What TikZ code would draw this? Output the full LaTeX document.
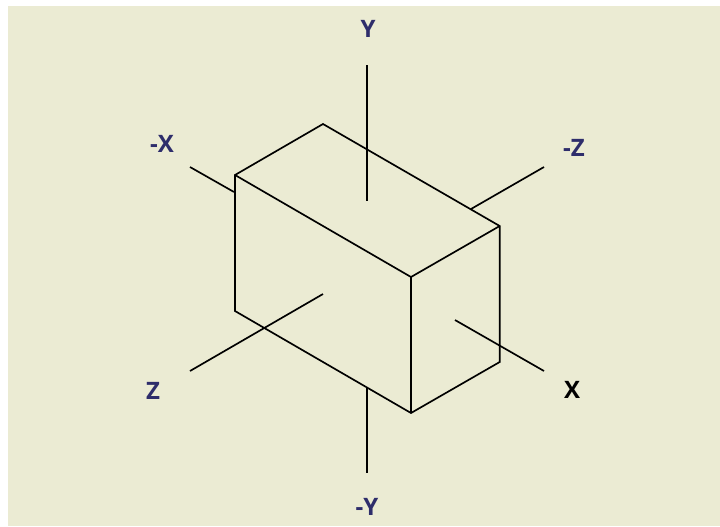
\documentclass[tikz,border=0pt]{standalone}
\usepackage{fontspec}
\setmainfont{Open Sans}
\definecolor{panel}{HTML}{EBEBD3}
\definecolor{navy}{HTML}{2E2D6B}
\tikzset{
  x=0.75pt,y=-0.75pt,
  edge/.style={draw=black,line width=1.25pt,line cap=butt,line join=miter},
  axisv/.style={draw=black,line width=1.9pt},
  lab/.style={font=\bfseries\fontsize{18}{20}\selectfont,text=navy,inner sep=0pt},
}
\begin{document}
\begin{tikzpicture}
\useasboundingbox (0,0) rectangle (720,526);
\fill[white] (0,0) rectangle (720,526);
\fill[panel] (8,6) rectangle (720,526);
% box vertices
\coordinate (A) at (235,175);
\coordinate (B) at (323,124);
\coordinate (C) at (499.7,226);
\coordinate (D) at (411,277);
\coordinate (E) at (235,311);
\coordinate (F) at (411,413);
\coordinate (G) at (499.7,362);
% axis ends
\coordinate (yt) at (367,65);
\coordinate (yb) at (367,201);
\coordinate (nyt) at (367,388);
\coordinate (nyb) at (367,473);
\coordinate (nxa) at (190,167);
\coordinate (nxb) at (234,192);
\coordinate (xa) at (455,320);
\coordinate (xb) at (544,371);
\coordinate (za) at (190,371);
\coordinate (zb) at (323,294);
\coordinate (nza) at (471,209);
\coordinate (nzb) at (544,167);
\draw[edge] (A) -- (B) -- (C) -- (G) -- (F) -- (E) -- cycle;
\draw[edge] (A) -- (D) -- (C);
\draw[edge] (D) -- (F);
\draw[axisv] (yt) -- (yb);
\draw[axisv] (nyt) -- (nyb);
\draw[edge] (nxa) -- (nxb);
\draw[edge] (xa) -- (xb);
\draw[edge] (za) -- (zb);
\draw[edge] (nza) -- (nzb);
\node[lab] (ly) at (368,29) {Y};
\node[lab] (lnx) at (162,144) {-X};
\node[lab] (lnz) at (574,148) {-Z};
\node[lab] (lz) at (153,391) {Z};
\node[lab,text=black] (lx) at (572,390) {X};
\node[lab] (lny) at (367,507) {-Y};
\end{tikzpicture}
\end{document}
